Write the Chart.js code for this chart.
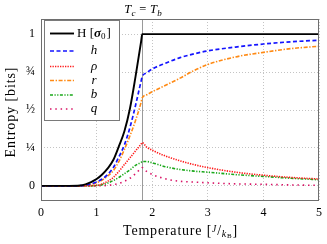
<!DOCTYPE html>
<html>
<head>
<meta charset="utf-8">
<script src="https://cdn.jsdelivr.net/npm/chart.js@4"></script>
<style>
  html, body { margin: 0; padding: 0; background: #fff; }
  #wrap { width: 327px; height: 244px; }
</style>
</head>
<body>
<div id="wrap"><canvas id="chart" width="327" height="244"></canvas></div>
<script>
const TC = 1.82;
const temps = [0, 0.5, 0.7, 0.8, 0.9, 1.0, 1.1, 1.2, 1.3, 1.4, 1.5, 1.6, 1.7, 1.8, 1.82, 1.9, 2.0, 2.25, 2.5, 2.75, 3.0, 3.5, 4.0, 4.5, 5.0];
const H   = [0, 0, 0.002, 0.01, 0.025, 0.045, 0.075, 0.115, 0.17, 0.26, 0.36, 0.51, 0.72, 0.95, 1, 1, 1, 1, 1, 1, 1, 1, 1, 1, 1];
const hS  = [0, 0, 0.001, 0.005, 0.013, 0.025, 0.045, 0.075, 0.12, 0.19, 0.27, 0.385, 0.53, 0.69, 0.72, 0.745, 0.77, 0.81, 0.845, 0.87, 0.89, 0.915, 0.935, 0.95, 0.96];
const rho = [0, 0, 0, 0, 0.001, 0.003, 0.012, 0.03, 0.055, 0.095, 0.14, 0.185, 0.23, 0.275, 0.285, 0.255, 0.235, 0.195, 0.165, 0.14, 0.12, 0.09, 0.07, 0.055, 0.045];
const rS  = [0, 0, 0, 0.003, 0.01, 0.02, 0.038, 0.065, 0.10, 0.16, 0.24, 0.33, 0.43, 0.55, 0.58, 0.60, 0.62, 0.665, 0.71, 0.76, 0.80, 0.85, 0.88, 0.905, 0.92];
const bS  = [0, 0, 0, 0, 0, 0.002, 0.008, 0.018, 0.035, 0.055, 0.08, 0.105, 0.135, 0.155, 0.16, 0.16, 0.152, 0.125, 0.108, 0.097, 0.09, 0.074, 0.062, 0.05, 0.04];
const qS  = [0, 0, 0, 0, 0, 0, 0.001, 0.003, 0.008, 0.016, 0.03, 0.05, 0.08, 0.115, 0.12, 0.095, 0.075, 0.045, 0.03, 0.025, 0.02, 0.013, 0.01, 0.006, 0.003];

const xTicks = [0, 1, 2, 3, 4, 5];
const yTicks = [0, 0.25, 0.5, 0.75, 1];
const yTickLabels = ['0', '\u00BC', '\u00BD', '\u00BE', '1'];

const SERIF = '"Liberation Serif", "DejaVu Serif", serif';

function pts(vals) { return vals.map((v, i) => ({ x: temps[i], y: v })); }

function ds(label, vals, color, dash, width) {
  return {
    label, data: pts(vals), borderColor: color, borderDash: dash, borderWidth: width,
    pointRadius: 0, fill: false, cubicInterpolationMode: 'monotone', borderCapStyle: 'butt'
  };
}

const datasets = [
  ds('H', H, '#000000', [], 1.9),
  ds('h', hS, '#1414ff', [4, 2.5], 1.7),
  ds('rho', rho, '#ff1a1a', [1.3, 1.2], 1.6),
  ds('r', rS, '#ff8a14', [4, 1.6, 1.4, 1.6], 1.6),
  ds('b', bS, '#1aa81a', [3, 1.5, 1.2, 1.5, 1.2, 1.5], 1.6),
  ds('q', qS, '#d81466', [1.5, 3.8], 1.6)
];

// draws a run of [text, font, dy] pieces centred on cx
function drawRun(ctx, parts, cx, y, spacing) {
  ctx.letterSpacing = spacing + 'px';
  let tw = 0;
  parts.forEach(p => { ctx.font = p[1] + ' ' + SERIF; tw += ctx.measureText(p[0]).width; });
  let tx = cx - tw / 2;
  parts.forEach(p => { ctx.font = p[1] + ' ' + SERIF; ctx.fillText(p[0], tx, y + p[2]); tx += ctx.measureText(p[0]).width; });
  ctx.letterSpacing = '0px';
}

const decor = {
  id: 'decor',
  beforeDatasetsDraw(chart) {
    const { ctx, chartArea: a, scales: { x } } = chart;
    const px = Math.round(x.getPixelForValue(TC)) + 0.5;
    ctx.save();
    ctx.strokeStyle = '#9a9a9a';
    ctx.lineWidth = 1;
    ctx.beginPath(); ctx.moveTo(px, a.top); ctx.lineTo(px, a.bottom); ctx.stroke();
    ctx.restore();
  },
  afterDraw(chart) {
    const { ctx, chartArea: a, scales: { x } } = chart;
    ctx.save();
    // frame
    ctx.strokeStyle = '#6e6e6e';
    ctx.lineWidth = 1;
    ctx.strokeRect(a.left + 0.5, a.top + 0.5, a.right - a.left - 1, a.bottom - a.top - 1);

    // legend
    const lx = 44.5, ly = 20.5, lw = 75, lh = 100;
    ctx.fillStyle = '#fff';
    ctx.fillRect(lx, ly, lw, lh);
    ctx.strokeStyle = '#7a7a7a';
    ctx.strokeRect(lx, ly, lw, lh);
    const rows = [33.5, 51, 66.5, 80.5, 95, 109];
    const labels = ['H', 'h', '\u03C1', 'r', 'b', 'q'];
    datasets.forEach((d, i) => {
      ctx.save();
      ctx.strokeStyle = d.borderColor;
      ctx.lineWidth = d.borderWidth;
      ctx.setLineDash(d.borderDash);
      ctx.beginPath(); ctx.moveTo(50, rows[i]); ctx.lineTo(74, rows[i]); ctx.stroke();
      ctx.restore();
      ctx.fillStyle = '#000';
      ctx.textBaseline = 'middle';
      if (i === 0) {
        ctx.font = '13px ' + SERIF;
        ctx.textAlign = 'left';
        let cx = 77;
        ctx.fillText('H [', cx, rows[i]); cx += ctx.measureText('H [').width;
        ctx.font = 'bold italic 13px ' + SERIF;
        ctx.fillText('\u03C3', cx, rows[i]); cx += ctx.measureText('\u03C3').width;
        ctx.font = '9px ' + SERIF;
        ctx.fillText('0', cx, rows[i] + 3); cx += ctx.measureText('0').width + 1;
        ctx.font = '13px ' + SERIF;
        ctx.fillText(']', cx, rows[i]);
      } else {
        ctx.font = 'italic 13px ' + SERIF;
        ctx.textAlign = 'center';
        ctx.fillText(labels[i], 94, rows[i]);
      }
    });

    ctx.fillStyle = '#000';
    ctx.textBaseline = 'alphabetic';
    ctx.textAlign = 'left';

    // Tc = Tb label
    drawRun(ctx, [['T', 'italic 12.5px', 0], ['c', 'italic 9px', 2.5], [' = ', '12.5px', 0], ['T', 'italic 12.5px', 0], ['b', 'italic 9px', 2.5]],
      x.getPixelForValue(TC) + 1, 13, 0.3);

    // x title
    drawRun(ctx, [['Temperature [', '14px', 0], ['J', 'italic 9.5px', -3.5], ['/', '14px', 0], ['k', 'italic 10px', 1.5], ['B', '7px', 3], [']', '14px', 0]],
      (a.left + a.right) / 2 + 0.5, 235, 0.8);

    // y title
    ctx.save();
    ctx.translate(15, (a.top + a.bottom) / 2 + 2);
    ctx.rotate(-Math.PI / 2);
    drawRun(ctx, [['Entropy [bits]', '14px', 0]], 0, 0, 0.9);
    ctx.restore();
    ctx.restore();
  }
};

new Chart(document.getElementById('chart'), {
  type: 'line',
  data: { datasets },
  options: {
    responsive: false,
    animation: false,
    layout: { padding: { left: 0, right: 7, top: 19, bottom: 0 } },
    plugins: { legend: { display: false }, tooltip: { enabled: false } },
    scales: {
      x: {
        type: 'linear', min: 0, max: 5,
        afterFit: s => { s.height = 43; },
        afterBuildTicks: s => { s.ticks = xTicks.map(v => ({ value: v })); },
        grid: { color: '#b5b5b5', lineWidth: 0.8, drawTicks: false },
        border: { display: false, dash: [1, 2] },
        ticks: { padding: 5, color: '#000', font: { family: SERIF, size: 12 }, maxRotation: 0 }
      },
      y: {
        type: 'linear', min: -0.1, max: 1.1,
        afterFit: s => { s.width = 41; },
        afterBuildTicks: s => { s.ticks = yTicks.map(v => ({ value: v })); },
        grid: { color: '#b5b5b5', lineWidth: 0.8, drawTicks: false },
        border: { display: false, dash: [1, 2] },
        ticks: {
          padding: 6, color: '#000', font: { family: SERIF, size: 12 },
          callback: v => { const i = yTicks.indexOf(v); return i >= 0 ? yTickLabels[i] : ''; }
        }
      }
    }
  },
  plugins: [decor]
});
</script>
</body>
</html>
